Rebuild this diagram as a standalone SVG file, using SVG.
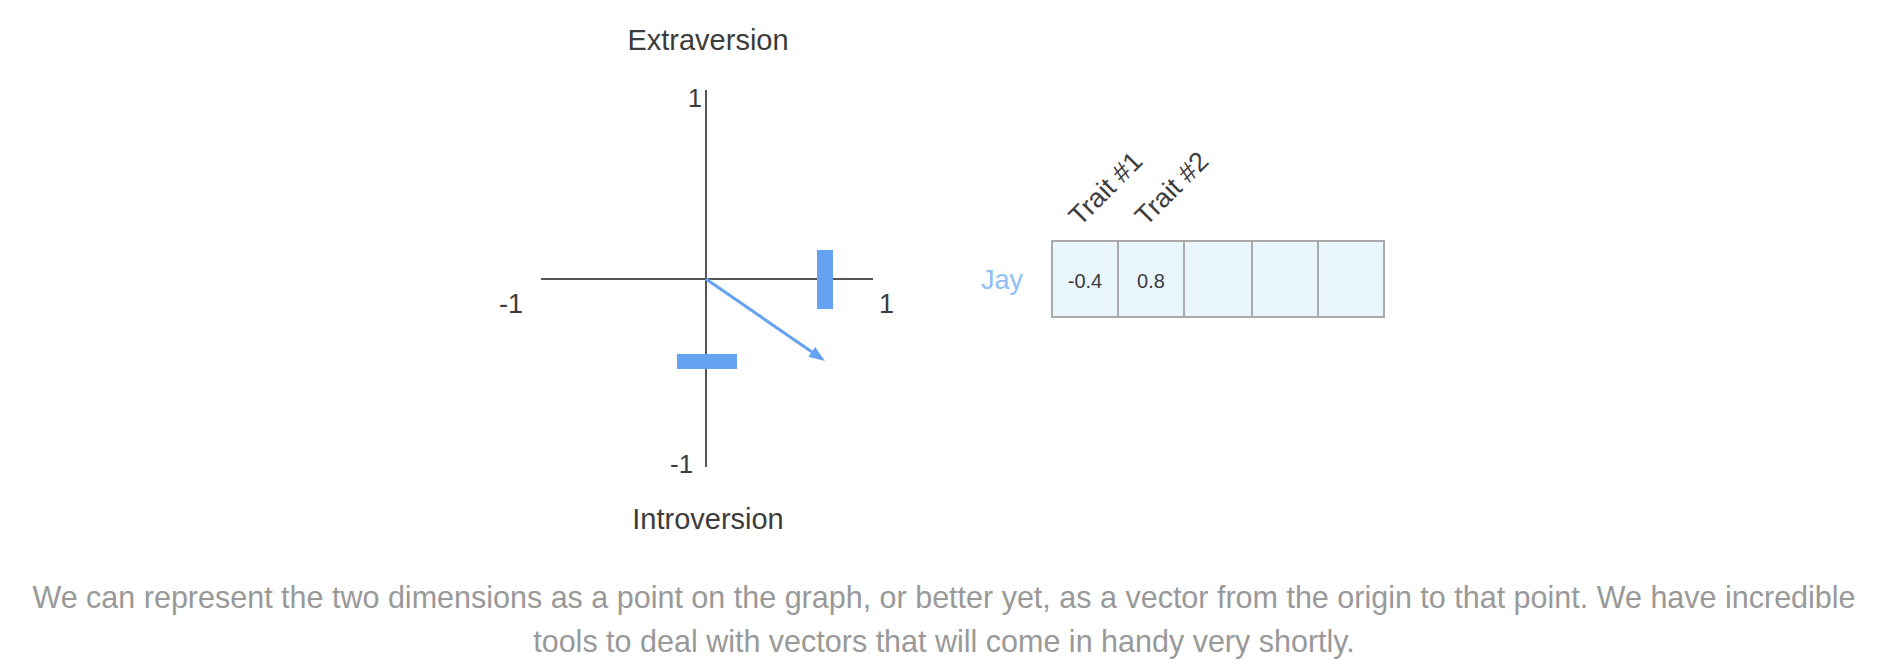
<svg xmlns="http://www.w3.org/2000/svg" width="1888" height="667" viewBox="0 0 1888 667">
<style>
.lbl{font-family:"Liberation Sans",Arial,sans-serif;fill:#3c3c3c}
.axis{stroke:#555;stroke-width:2;fill:none}
.bar{fill:#65a2f1}
.cell{fill:#eaf6fd;stroke:#aaaaaa;stroke-width:2}
.cap{font-family:"Liberation Sans",Arial,sans-serif;font-size:30.5px;fill:#999;text-anchor:middle}
</style>
<rect width="1888" height="667" fill="#fff"/>
<g id="axes">
<line class="axis" x1="706" y1="90" x2="706" y2="467"/>
<line class="axis" x1="541" y1="279" x2="873" y2="279"/>
<text class="lbl" x="708" y="50" font-size="29" text-anchor="middle">Extraversion</text>
<text class="lbl" x="708" y="529" font-size="29" text-anchor="middle">Introversion</text>
<text class="lbl" x="702" y="107" font-size="25" text-anchor="end">1</text>
<text class="lbl" x="499" y="313" font-size="27">-1</text>
<text class="lbl" x="879" y="313" font-size="27">1</text>
<text class="lbl" x="670" y="473" font-size="26">-1</text>
</g>
<g id="bars">
<rect class="bar" x="817" y="250" width="16" height="59"/>
<rect class="bar" x="677" y="354" width="60" height="15"/>
</g>
<g id="connectors">
<line x1="706" y1="279" x2="812" y2="352" stroke="#65a2f1" stroke-width="3"/>
<polygon points="825,361 808.4,356.8 815.2,347" fill="#65a2f1"/>
</g>
<g id="table">
<rect class="cell" x="1052" y="241" width="66" height="76"/>
<rect class="cell" x="1118" y="241" width="66" height="76"/>
<rect class="cell" x="1184" y="241" width="68" height="76"/>
<rect class="cell" x="1252" y="241" width="66" height="76"/>
<rect class="cell" x="1318" y="241" width="66" height="76"/>
<text class="lbl" x="1085" y="288" font-size="20" text-anchor="middle">-0.4</text>
<text class="lbl" x="1151" y="288" font-size="20" text-anchor="middle">0.8</text>
<text x="981" y="289" font-size="27" font-family="'Liberation Sans',Arial,sans-serif" fill="#8fbff4">Jay</text>
<text class="lbl" font-size="27" transform="translate(1080,227) rotate(-45)">Trait #1</text>
<text class="lbl" font-size="27" transform="translate(1146,227) rotate(-45)">Trait #2</text>
</g>
<g id="caption">
<text class="cap" x="944" y="608">We can represent the two dimensions as a point on the graph, or better yet, as a vector from the origin to that point. We have incredible</text>
<text class="cap" x="944" y="652">tools to deal with vectors that will come in handy very shortly.</text>
</g>
</svg>
